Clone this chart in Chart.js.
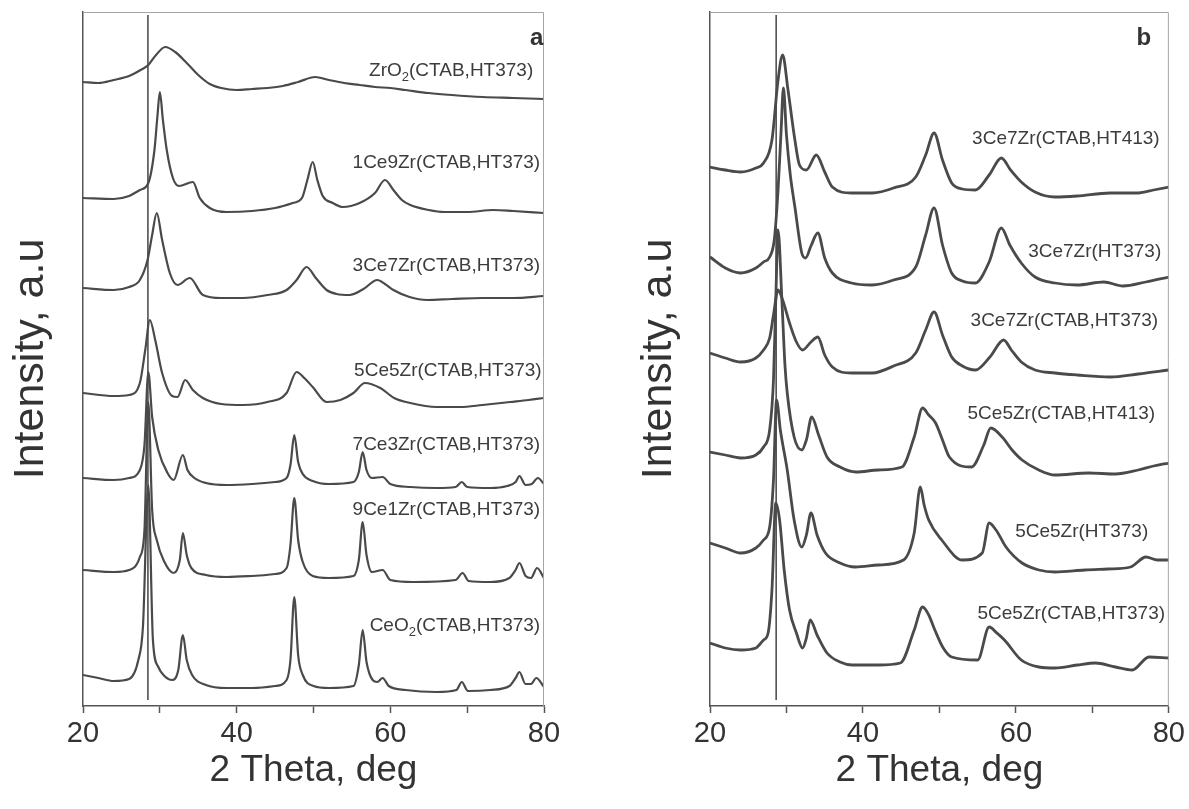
<!DOCTYPE html>
<html>
<head>
<meta charset="utf-8">
<script src="https://cdn.jsdelivr.net/npm/chart.js@4.4.1/dist/chart.umd.min.js"></script>
<style>
  html, body { margin: 0; padding: 0; background: #fff; }
  .panel { position: absolute; top: 0; height: 809px; }
</style>
</head>
<body>
<div class="panel" style="left:0;width:594px"><canvas id="chartA"></canvas></div>
<div class="panel" style="left:594px;width:595px"><canvas id="chartB"></canvas></div>
<script>
// ---- panel a: 2 theta (deg) and intensity (a.u., stacked) ----
const aZrO2Deg = [20,22,24,26,27.5,28.5,29.5,30.7,32,33.5,35,36.5,38,40,42,44,46,48,50.2,52,54,56,58,60,62,65,68,72,76,80];
const aZrO2 = [624,623,626,630,636,641,651,659,654,643,631,622,618,616,617,618,620,624,629,626,623,621,619,618,616,613,611,609,608,607];

const a1Ce9ZrDeg = [20,24,26,27.4,28.5,29.3,29.7,30.0,30.4,30.9,31.7,32.5,34.3,35.2,36.5,38.7,42,45,47.3,48.5,49.2,49.9,50.5,51.2,52.5,53.8,56,58,59.3,60.4,61.5,62.6,65,67,70,73.4,76,80];
const a1Ce9Zr = [508,507,510,516,523,556,591,614,586,556,528,520,524,508,498,494,495,498,503,508,526,544,526,510,503,499,503,513,526,516,506,501,496,494,494,496,495,493];

const a3Ce7ZrDeg = [20,24,26,27.4,28.4,29.0,29.6,30.3,31.3,32.3,33.9,35.6,38,40.8,44,46.5,47.8,49.1,50.3,51.7,53,54.7,56.5,58.3,59.3,60.4,62.5,64.8,68,72,76,80];
const a3Ce7Zr = [418,416,419,426,446,471,493,466,433,421,428,411,408,408,411,416,426,439,428,416,412,411,417,426,422,416,409,406,407,408,408,410];

const a5Ce5ZrDeg = [20,24,26,27.4,28.1,28.7,29.4,30.3,31.6,32.3,33.3,34.3,35.6,38,40.8,44,46.5,47.8,48.8,49.9,51.7,53.5,55.2,56.7,58.7,60.5,62.6,66,69.1,72,75.6,78,80];
const a5Ce5Zr = [313,310,311,323,356,386,366,333,310,309,326,316,308,302,301,304,313,334,328,319,304,306,313,323,318,308,303,299,299,301,304,306,308];

const a7Ce3ZrDeg = [20,24,26,27.4,28.0,28.5,29.0,29.8,31.0,31.8,33.0,33.6,34.5,36,38.7,42,45,46.5,47.0,47.5,48.0,48.6,49.9,52,55.2,55.9,56.4,56.9,57.6,59.0,60,62.6,66,68.5,69.3,70,73,75.2,76.3,76.8,77.6,78.4,79.2,80];
const a7Ce3Zr = [228,226,228,236,261,334,289,256,233,226,251,236,228,223,221,222,224,228,241,271,244,232,225,222,224,234,254,236,228,229,222,219,218,219,224,219,218,220,224,230,221,222,228,222];

const a9Ce1ZrDeg = [20,24,26,27.4,28.0,28.5,29.0,29.6,30.6,31.8,32.6,33.0,33.5,34.1,36,38.7,42,45,46.5,47.0,47.5,48.0,48.6,49.9,52,55.2,55.9,56.4,56.9,57.6,59.0,60,63,68.5,69.4,70.2,73,75.5,76.3,76.8,77.6,78.3,79.1,80];
const a9Ce1Zr = [136,134,136,149,176,304,196,166,144,133,146,173,151,138,131,129,130,132,138,161,208,166,144,130,128,130,146,184,151,134,136,126,124,126,133,125,124,128,136,143,130,128,138,128];

const aCeO2Deg = [20,22,24,26,27.2,27.8,28.5,29.1,29.8,30.6,31.6,32.4,33.0,33.5,34.2,36,38.7,42,45,46.5,47.0,47.5,48.0,48.6,50,52,55.2,55.9,56.4,56.9,57.7,58.3,59.0,59.8,62,66,68.6,69.3,70.1,73,75.5,76.3,76.8,77.6,78.3,79.0,80];
const aCeO2 = [31,28,25,27,46,79,221,66,39,30,26,36,71,46,31,21,18,18,20,26,46,109,51,31,20,18,20,41,76,44,26,24,28,20,16,14,16,24,15,16,20,28,34,22,22,28,19];

const aLabels = ['ZrO_2(CTAB,HT373)', '1Ce9Zr(CTAB,HT373)', '3Ce7Zr(CTAB,HT373)', '5Ce5Zr(CTAB,HT373)', '7Ce3Zr(CTAB,HT373)', '9Ce1Zr(CTAB,HT373)', 'CeO_2(CTAB,HT373)'];

// ---- panel b ----
const b3Ce7ZrCT413Deg = [20,22,24,26,27.0,28.1,28.9,29.5,30.2,31.1,31.7,32.6,33.9,35.0,36,38.5,41.2,44,46.9,48.2,49.3,50.4,51.6,53,54.7,56.5,58.1,59.3,60.7,62.5,65.1,68,72.3,76,78,80];
const b3Ce7ZrCT413 = [539,536,534,538,543,566,626,651,616,566,541,536,551,534,519,513,513,518,529,551,573,546,523,517,516,531,548,536,524,514,509,510,513,513,516,519];

const b3Ce7Zr373Deg = [20,22,24,26,27.0,27.8,28.4,28.9,29.3,29.6,30.0,30.5,31.1,32.0,32.5,33.2,34.1,35.0,36,38.5,41.2,44,46.9,48.2,49.3,50.4,51.6,53,54.7,56.5,58.1,59.2,60.7,62.5,65.1,68,71.5,74,77,80];
const b3Ce7Zr373 = [449,438,433,438,444,449,466,516,576,618,571,531,499,453,448,460,473,448,433,423,421,426,439,471,498,461,433,425,423,444,478,461,443,429,423,421,424,420,424,429];

const b3Ce7ZrCT373Deg = [20,22,24,26,27.0,27.8,28.3,28.9,29.5,30.4,31.3,32.1,33.2,34.1,35.0,36,38.5,41.2,44,46.9,48.2,49.3,50.4,51.6,53,54.7,56.6,58.4,59.4,60.7,62.5,65.1,68,72.3,76,80];
const b3Ce7ZrCT373 = [353,348,344,348,356,368,391,416,406,383,364,356,364,369,351,339,333,333,340,353,376,394,371,349,340,336,349,366,356,344,336,333,331,329,332,336];

const b5Ce5ZrCT413Deg = [20,22,24,26,27.0,27.8,28.3,28.6,28.9,29.4,29.8,30.1,31.0,32.0,32.6,33.3,34.2,35.3,37,39.1,42,45.1,46.7,47.8,48.6,49.5,50.4,51.3,54.2,55.8,56.7,58.2,59.5,60.8,63,65.1,69.5,73,76,78,80];
const b5Ce5ZrCT413 = [254,251,248,251,259,276,326,406,476,406,341,313,269,256,266,289,271,249,239,234,236,239,269,298,291,283,266,249,239,261,278,269,256,246,236,231,233,232,236,240,243];

const b5Ce5Zr373Deg = [20,22,24,26,27.0,27.8,28.3,28.7,29.2,30.1,31.0,32.0,32.6,33.2,34.0,35.1,37,39,42,45.3,46.7,47.5,48.0,48.6,50.3,53,55.6,56.5,57.4,58.7,60.8,63,65.1,69,72,75,77,78.5,80];
const b5Ce5Zr373 = [163,158,153,158,166,179,226,306,276,236,186,159,171,193,171,153,143,139,141,146,173,219,201,186,166,146,153,183,176,159,143,136,134,136,137,139,149,146,146];

const b5Ce5ZrCT373Deg = [20,22,24,26,27.0,27.6,28.1,28.6,29.1,29.7,30.4,31.3,32.1,32.6,33.1,34.0,35.3,37,38.6,42,44.9,46.7,47.8,48.6,49.4,50.5,51.6,55,56.5,57.5,58.5,60.7,63,65.1,68,70.4,73,75.2,77.4,80];
const b5Ce5ZrCT373 = [63,58,56,58,66,73,116,203,186,136,96,73,58,68,86,71,53,44,41,41,43,76,99,91,76,58,49,46,79,73,66,46,39,38,41,43,39,36,49,48];

const bLabels = ['3Ce7Zr(CTAB,HT413)', '3Ce7Zr(HT373)', '3Ce7Zr(CTAB,HT373)', '5Ce5Zr(CTAB,HT413)', '5Ce5Zr(HT373)', '5Ce5Zr(CTAB,HT373)'];

// reference position of the CeO2 (111) reflection
const refDegA = 28.45;
const refDegB = 28.65;

const xTicks = [20, 40, 60, 80];

Chart.defaults.font.family = '"Liberation Sans", Arial, Helvetica, sans-serif';
Chart.defaults.color = '#333';

function pts(xs, ys) {
    return xs.map((x, i) => ({ x: x, y: ys[i] }));
}

// draws "ZrO_2(...)" with a subscript, right aligned at (right, base)
function drawLabel(ctx, text, right, base) {
    const parts = text.split('_');
    const main = parts[0];
    const sub = parts.length > 1 ? parts[1].charAt(0) : '';
    const rest = parts.length > 1 ? parts[1].slice(1) : '';
    const big = '19px "Liberation Sans", Arial, sans-serif';
    const small = '13px "Liberation Sans", Arial, sans-serif';
    ctx.font = big;
    const w1 = ctx.measureText(main).width;
    const w3 = ctx.measureText(rest).width;
    ctx.font = small;
    const w2 = sub ? ctx.measureText(sub).width : 0;
    let x = right - w1 - w2 - w3;
    ctx.textAlign = 'left';
    ctx.textBaseline = 'alphabetic';
    ctx.font = big;
    ctx.fillText(main, x, base);
    x += w1;
    if (sub) {
        ctx.font = small;
        ctx.fillText(sub, x, base + 5);
        x += w2;
        ctx.font = big;
        ctx.fillText(rest, x, base);
    }
}

const panelText = {
    id: 'panelText',
    afterDatasetsDraw(chart, args, opts) {
        const { ctx, chartArea, scales } = chart;
        ctx.save();
        // light frame on top and right
        ctx.strokeStyle = '#a5a5a5';
        ctx.lineWidth = 1;
        ctx.beginPath();
        ctx.moveTo(chartArea.left, chartArea.top + 0.5);
        ctx.lineTo(chartArea.right - 0.5, chartArea.top + 0.5);
        ctx.lineTo(chartArea.right - 0.5, chartArea.bottom);
        ctx.stroke();

        ctx.fillStyle = '#3c3c3c';
        opts.labels.forEach((text, i) => {
            const p = opts.positions[i];
            drawLabel(ctx, text, scales.x.getPixelForValue(p[0]), scales.y.getPixelForValue(p[1]));
        });

        ctx.font = 'bold 24px "Liberation Sans", Arial, sans-serif';
        ctx.textAlign = 'right';
        ctx.fillStyle = '#333';
        ctx.fillText(opts.letter, scales.x.getPixelForValue(opts.letterPos[0]), scales.y.getPixelForValue(opts.letterPos[1]));
        ctx.restore();
    }
};

function makePanel(id, series, refDeg, labels, positions, letter, letterPos, axisWidth, padRight, titlePad, lineWidth) {
    const datasets = series.map(s => ({
        data: pts(s[0], s[1]),
        borderColor: '#4a4a4a',
        borderWidth: lineWidth,
        pointRadius: 0,
        cubicInterpolationMode: 'monotone',
    }));
    datasets.push({
        data: pts([refDeg, refDeg], [6, 691]),
        borderColor: '#444',
        borderWidth: 1.5,
        pointRadius: 0,
        tension: 0,
    });

    return new Chart(document.getElementById(id), {
        type: 'line',
        data: { datasets: datasets },
        options: {
            responsive: true,
            maintainAspectRatio: false,
            animation: false,
            layout: { padding: { top: 12, right: padRight, left: 0, bottom: 0 } },
            plugins: {
                legend: { display: false },
                tooltip: { enabled: false },
                panelText: { labels: labels, positions: positions, letter: letter, letterPos: letterPos },
            },
            scales: {
                x: {
                    type: 'linear',
                    min: 20,
                    max: 80,
                    afterFit: s => { s.height = 103; },
                    ticks: {
                        stepSize: 10,
                        padding: 4,
                        color: '#333',
                        font: { size: 29 },
                        callback: v => (xTicks.includes(v) ? v : ''),
                    },
                    grid: { drawOnChartArea: false, drawTicks: true, tickLength: 7, tickColor: '#555', tickWidth: 1.5 },
                    border: { color: '#555', width: 1.5 },
                    title: { display: true, text: '2 Theta, deg', color: '#333', font: { size: 37 }, padding: { top: 0, bottom: 16 } },
                },
                y: {
                    min: 0,
                    max: 694,
                    afterFit: s => { s.width = axisWidth; },
                    ticks: { display: false },
                    grid: { display: false, drawTicks: false },
                    border: { color: '#555', width: 1.5 },
                    title: { display: true, text: 'Intensity, a.u', color: '#333', font: { size: 43 }, padding: { top: titlePad, bottom: 0 } },
                },
            },
        },
        plugins: [panelText],
    });
}

makePanel('chartA', [
    [aZrO2Deg, aZrO2],
    [a1Ce9ZrDeg, a1Ce9Zr],
    [a3Ce7ZrDeg, a3Ce7Zr],
    [a5Ce5ZrDeg, a5Ce5Zr],
    [a7Ce3ZrDeg, a7Ce3Zr],
    [a9Ce1ZrDeg, a9Ce1Zr],
    [aCeO2Deg, aCeO2],
], refDegA, aLabels,
    [[78.6, 630], [79.5, 538], [79.5, 435], [79.7, 330], [79.5, 256], [79.5, 191], [79.5, 75]],
    'a', [79.9, 661], 83, 50, 5, 2.2);

makePanel('chartB', [
    [b3Ce7ZrCT413Deg, b3Ce7ZrCT413],
    [b3Ce7Zr373Deg, b3Ce7Zr373],
    [b3Ce7ZrCT373Deg, b3Ce7ZrCT373],
    [b5Ce5ZrCT413Deg, b5Ce5ZrCT413],
    [b5Ce5Zr373Deg, b5Ce5Zr373],
    [b5Ce5ZrCT373Deg, b5Ce5ZrCT373],
], refDegB, bLabels,
    [[78.8, 562], [79.0, 449], [78.6, 380], [78.2, 287], [77.3, 169], [79.5, 87]],
    'b', [77.7, 661], 116, 18, 39, 2.8);
</script>
</body>
</html>
